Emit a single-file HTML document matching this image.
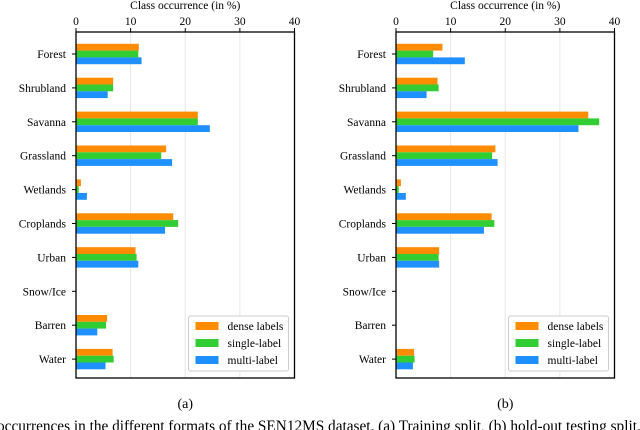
<!DOCTYPE html>
<html><head><meta charset="utf-8"><style>
body{margin:0;background:#fff;width:640px;height:430px;overflow:hidden}
svg{display:block;font-family:"Liberation Serif",serif}
</style></head><body>
<svg id="c" width="640" height="430"></svg>
<script>
const categories=["Forest","Shrubland","Savanna","Grassland","Wetlands","Croplands","Urban","Snow/Ice","Barren","Water"];
const seriesNames=["dense labels","single-label","multi-label"];
const colors=["#ff8c00","#32cd32","#1e90ff"];
const ticks=[0,10,20,30,40];
const trainDense=[11.5,6.8,22.3,16.5,0.9,17.8,10.9,0,5.7,6.7];
const trainSingle=[11.4,6.8,22.3,15.6,0.5,18.7,11.1,0,5.5,6.9];
const trainMulti=[12.0,5.8,24.5,17.6,2.0,16.3,11.4,0,3.9,5.4];
const testDense=[8.5,7.6,35.2,18.2,0.9,17.5,7.9,0,0,3.3];
const testSingle=[6.8,7.8,37.2,17.6,0.5,18.0,7.8,0,0,3.4];
const testMulti=[12.6,5.6,33.4,18.6,1.8,16.1,7.9,0,0,3.1];
const NS="http://www.w3.org/2000/svg";
const svg=document.getElementById('c');
function mk(t,a,p){const e=document.createElementNS(NS,t);for(const k in a)e.setAttribute(k,a[k]);(p||svg).appendChild(e);return e;}
function panel(x0,x1,data,id,label){
  const top=32,bot=378;
  const xs=v=>x0+(x1-x0)*v/40;
  const ys=i=>54+i*33.9;
  const g=mk('g',{});
  
  
  ticks.forEach(t=>{
    if(t>0&&t<40){const l=mk('line',{x1:xs(t),x2:xs(t),y1:top,y2:bot,stroke:'#e6e6e6','stroke-width':1},g);
      }
    mk('line',{x1:xs(t),x2:xs(t),y1:top-4,y2:top,stroke:'#000'},g);
    const tx=mk('text',{x:xs(t),y:top-7,'text-anchor':'middle','font-size':11.5},g);
    tx.textContent=t;
    
  });
  const tt=mk('text',{x:(x0+x1)/2,y:9,'text-anchor':'middle','font-size':11.5},g);
  tt.textContent='Class occurrence (in %)';
  
  categories.forEach((c,i)=>{
    const y=ys(i);
    mk('line',{x1:x0-4,x2:x0,y1:y,y2:y,stroke:'#000'},g);
    const t=mk('text',{x:x0-10,y:y+4,'text-anchor':'end','font-size':11.5},g);
    t.textContent=c;
    
    data.forEach((s,k)=>{
      if(s[i]<=0)return;
      const r=mk('rect',{x:x0,y:y-10.2+k*6.8,width:xs(s[i])-x0,height:6.8,fill:colors[k]},g);
      
      
    });
  });
  const fr=mk('rect',{x:x0,y:top,width:x1-x0,height:bot-top,fill:'none',stroke:'#000','stroke-width':1.3},g);
  
  const lg=mk('g',{},g);
  
  mk('rect',{x:x1-106,y:316,width:100,height:55,fill:'#fff',stroke:'#ccc',rx:2},lg);
  seriesNames.forEach((n,k)=>{
    const yy=326+k*17;
    const p=mk('rect',{x:x1-99,y:yy-4,width:23,height:8,fill:colors[k]},lg);
    
    const t=mk('text',{x:x1-67,y:yy+4,'font-size':11.5},lg);
    t.textContent=n;
    
  });
  const sl=mk('text',{x:(x0+x1)/2,y:408,'text-anchor':'middle','font-size':14},g);
  sl.textContent=label;
  
}
panel(76,294.5,[trainDense,trainSingle,trainMulti],'train','(a)');
panel(396,614.5,[testDense,testSingle,testMulti],'test','(b)');
const cap=mk('text',{x:-3,y:431,'font-size':15.3});
cap.textContent='occurrences in the different formats of the SEN12MS dataset. (a) Training split, (b) hold-out testing split.';

</script>
</body></html>
